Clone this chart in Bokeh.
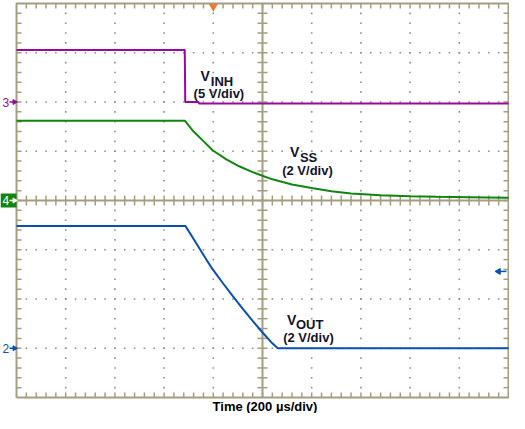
import math
from bokeh.plotting import figure
from bokeh.models import Range1d
from bokeh.core.properties import value
from bokeh.embed import file_html
from bokeh.resources import INLINE

# ---------------- data (time in µs, volts per channel) ----------------
time_inh = [0, 684, 686, 740, 742, 2000]
v_inh = [5.27, 5.27, 0.0, 0.0, -0.15, -0.15]

time_ss = [0, 684, 720, 760, 797, 853, 907, 960, 1040, 1120, 1200, 1280,
           1360, 1480, 1600, 1707, 1840, 1992, 2000]
v_ss = [3.24, 3.24, 2.80, 2.41, 2.04, 1.67, 1.38, 1.15, 0.86, 0.65, 0.51,
        0.38, 0.28, 0.21, 0.17, 0.15, 0.13, 0.11, 0.11]

time_out = [0, 687, 720, 747, 773, 800, 840, 880, 920, 960, 1000, 1040, 1062, 2000]
v_out = [4.96, 4.96, 4.44, 4.00, 3.58, 3.17, 2.63, 2.11, 1.60, 1.11, 0.64, 0.20, 0.0, 0.0]

channel_names = ["3", "4", "2"]
channel_ref_div = [6, 4, 1]          # reference level (divisions from bottom)
channel_v_per_div = [5, 2, 2]
trigger_time = 800                   # µs
trigger_level_out = 3.12             # V, on VOUT channel

us_per_div = 200
n_xdiv, n_ydiv = 10, 8

# ---------------- layout ----------------
W, H = 509, 413
PXX = 49.2         # pixels per horizontal division
PXY = 49.25        # pixels per vertical division
LEFT, TOP = 16, 3

def px_dx(p):      # pixel offset -> µs
    return p / PXX * us_per_div

def px_dy(p):      # pixel offset -> divisions
    return p / PXY

x0 = -px_dx(LEFT)
x1 = n_xdiv * us_per_div + px_dx(W - LEFT - n_xdiv * PXX)
y1 = n_ydiv + px_dy(TOP)
y0 = n_ydiv - px_dy(H - TOP)

p = figure(width=W, height=H, x_range=Range1d(x0, x1), y_range=Range1d(y0, y1),
           output_backend="svg", toolbar_location=None,
           x_axis_location=None, y_axis_location=None, min_border=0)
p.grid.visible = False
p.outline_line_color = None
p.background_fill_color = "white"
p.border_fill_color = "white"

GRID = "#A39E80"
DOT = "#8E8E8E"
T_END = n_xdiv * us_per_div

# dotted grid
dx, dy = [], []
for k in range(1, n_xdiv):
    if k == n_xdiv // 2:
        continue
    for j in range(1, n_ydiv * 5):
        dx.append(k * us_per_div); dy.append(j * 0.2)
for m in range(1, n_ydiv):
    if m == n_ydiv // 2:
        continue
    for i in range(1, n_xdiv * 5):
        dx.append(i * us_per_div / 5); dy.append(m)
p.scatter(dx, dy, marker="square", size=1.6, fill_color=DOT, line_color=None)

# ticks
tl = px_dy(5)
tlx = px_dx(5)
sx0, sy0, sx1, sy1 = [], [], [], []
for i in range(1, n_xdiv * 5):
    t = i * us_per_div / 5
    sx0 += [t, t, t]; sx1 += [t, t, t]
    sy0 += [n_ydiv, 0, n_ydiv / 2 - tl]; sy1 += [n_ydiv - tl, tl, n_ydiv / 2 + tl]
for j in range(1, n_ydiv * 5):
    yv = j * 0.2
    sy0 += [yv, yv, yv]; sy1 += [yv, yv, yv]
    sx0 += [0, T_END, T_END / 2 - tlx]; sx1 += [tlx, T_END - tlx, T_END / 2 + tlx]
p.segment(sx0, sy0, sx1, sy1, line_color=GRID, line_width=1.5)

# centre lines and frame
p.segment([T_END / 2, 0], [0, n_ydiv / 2], [T_END / 2, T_END], [n_ydiv, n_ydiv / 2],
          line_color=GRID, line_width=2)
p.multi_line([[0, T_END, T_END, 0, 0]], [[0, 0, n_ydiv, n_ydiv, 0]],
             line_color=GRID, line_width=2)

# traces
COLORS = ["#990A99", "#10860F", "#0A4FB3"]
traces = [(time_inh, v_inh), (time_ss, v_ss), (time_out, v_out)]
for (tt, vv), ref, vpd, col in zip(traces, channel_ref_div, channel_v_per_div, COLORS):
    p.line(tt, [ref + v / vpd for v in vv], line_color=col, line_width=2)

# channel reference markers on the left
FONT = value("Liberation Sans")
for i, (name, ref, col) in enumerate(zip(channel_names, channel_ref_div, COLORS)):
    txt_col = col
    if i == 1:
        p.quad(left=[x0], right=[0], bottom=[ref - px_dy(7)], top=[ref + px_dy(7)],
               fill_color=col, line_color=None)
        txt_col = "white"
    p.text([x0 + px_dx(2)], [ref], text=[name], text_color=txt_col, text_font=FONT,
           text_font_size="12px", text_align="left", text_baseline="middle")
    p.segment([x0 + px_dx(9)], [ref], [-px_dx(2)], [ref], line_color=txt_col, line_width=1.5)
    p.scatter([-px_dx(2)], [ref], marker="triangle", angle=-math.pi / 2, size=5,
              fill_color=txt_col, line_color=txt_col)

# trigger position marker (top) and trigger level arrow (right)
p.scatter([trigger_time], [n_ydiv - px_dy(3)], marker="inverted_triangle", size=9,
          fill_color="#F07A28", line_color=None)
lvl = channel_ref_div[2] + trigger_level_out / channel_v_per_div[2]
p.segment([T_END - px_dx(2)], [lvl], [T_END - px_dx(9)], [lvl], line_color=COLORS[2], line_width=1.5)
p.scatter([T_END - px_dx(10)], [lvl], marker="triangle", angle=math.pi / 2, size=6,
          fill_color=COLORS[2], line_color=COLORS[2])

# labels
TXT = "#14142A"
labels = [
    # (V x, V y, sub text, sub x, sub y, scale text, scale x, scale y)
    (748, 6.52, "INH", 790, 6.42, "(5 V/div)", 720, 6.18),
    (1112, 4.98, "SS", 1152, 4.87, "(2 V/div)", 1080, 4.60),
    (1100, 1.58, "OUT", 1136, 1.48, "(2 V/div)", 1084, 1.22),
]
for vx, vy, sub, sx, sy, sc, scx, scy in labels:
    p.text([vx], [vy], text=["V"], text_color=TXT, text_font=FONT, text_font_style="bold",
           text_font_size="14px", text_align="left", text_baseline="alphabetic")
    p.text([sx], [sy], text=[sub], text_color=TXT, text_font=FONT, text_font_style="bold",
           text_font_size="13px", text_align="left", text_baseline="alphabetic")
    p.text([scx], [scy], text=[sc], text_color=TXT, text_font=FONT, text_font_style="bold",
           text_font_size="13px", text_align="left", text_baseline="alphabetic")

p.text([T_END / 2 + 10], [-px_dy(9)], text=["Time (200 µs/div)"], text_color="#000000",
       text_font=FONT, text_font_style="bold", text_font_size="13px",
       text_align="center", text_baseline="middle")

open("out.html", "w").write(file_html(p, INLINE))
